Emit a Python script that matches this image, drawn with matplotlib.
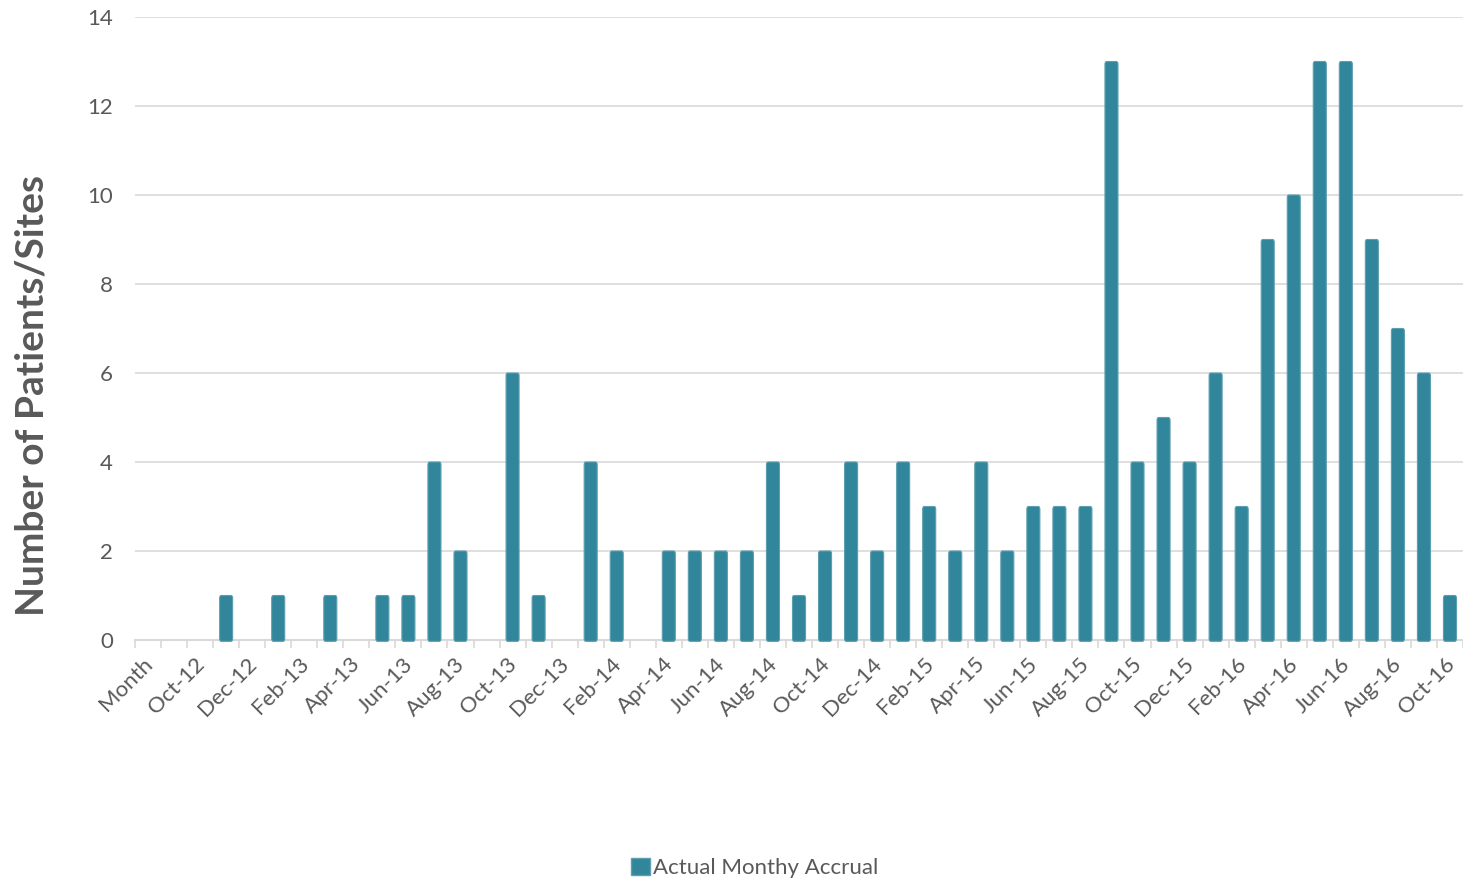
import matplotlib.pyplot as plt
from matplotlib.patches import Patch, FancyBboxPatch
import numpy as np

plt.rcParams['font.family'] = ['Lato', 'DejaVu Sans']

# categories as on the sheet (first row is the header cell "Month")
months = ['Month', 'Sep-12', 'Oct-12', 'Nov-12', 'Dec-12',
          'Jan-13', 'Feb-13', 'Mar-13', 'Apr-13', 'May-13', 'Jun-13',
          'Jul-13', 'Aug-13', 'Sep-13', 'Oct-13', 'Nov-13', 'Dec-13',
          'Jan-14', 'Feb-14', 'Mar-14', 'Apr-14', 'May-14', 'Jun-14',
          'Jul-14', 'Aug-14', 'Sep-14', 'Oct-14', 'Nov-14', 'Dec-14',
          'Jan-15', 'Feb-15', 'Mar-15', 'Apr-15', 'May-15', 'Jun-15',
          'Jul-15', 'Aug-15', 'Sep-15', 'Oct-15', 'Nov-15', 'Dec-15',
          'Jan-16', 'Feb-16', 'Mar-16', 'Apr-16', 'May-16', 'Jun-16',
          'Jul-16', 'Aug-16', 'Sep-16', 'Oct-16']
accrual = [0, 0, 0, 1, 0,
           1, 0, 1, 0, 1, 1,
           4, 2, 0, 6, 1, 0,
           4, 2, 0, 2, 2, 2,
           2, 4, 1, 2, 4, 2,
           4, 3, 2, 4, 2, 3,
           3, 3, 13, 4, 5, 4,
           6, 3, 9, 10, 13, 13,
           9, 7, 6, 1]
yticks = [0, 2, 4, 6, 8, 10, 12, 14]

bar_col = '#31869b'
edge_col = '#5c9fb1'
grey_txt = '#595959'
grid_col = '#d9d9d9'

fig = plt.figure(figsize=(14.63, 8.82), dpi=100)
ax = fig.add_axes([135 / 1463, 1 - 640 / 882, 1 - 135 / 1463, (640 - 17) / 882])

x = np.arange(len(months))
bw = 0.5
for xi, v in zip(x, accrual):
    if v <= 0:
        continue
    # slightly rounded bar, dipping a hair below the axis like the original
    p = FancyBboxPatch((xi - bw / 2, -0.03), bw, v + 0.03,
                       boxstyle='round,pad=0,rounding_size=0.06',
                       facecolor=bar_col, edgecolor=edge_col, linewidth=0.8,
                       zorder=3, clip_on=False)
    ax.add_patch(p)

ax.set_xlim(-0.5, len(months) - 0.5)
ax.set_ylim(0, 14)
ax.set_yticks(yticks)
ax.yaxis.grid(True, color=grid_col, linewidth=1.2)
ax.set_axisbelow(True)

# labels sit a touch left of the category centre, as Excel draws them
ax.set_xticks(x[::2] - 0.22)
ax.set_xticklabels(months[::2], rotation=45, ha='right', rotation_mode='anchor')
ax.set_xticks(np.arange(len(months) + 1) - 0.5, minor=True)
ax.tick_params(axis='x', which='major', length=0, pad=10, labelsize=16, labelcolor=grey_txt)
ax.tick_params(axis='x', which='minor', length=6, width=1.2, color=grid_col)
ax.tick_params(axis='y', length=0, pad=16, labelsize=16, labelcolor=grey_txt)

for s in ['top', 'right', 'left']:
    ax.spines[s].set_visible(False)
ax.spines['bottom'].set_color(grid_col)
ax.spines['bottom'].set_linewidth(1.5)

fig.text(32 / 1463, 1 - 395 / 882, 'Number of Patients/Sites', rotation=90,
         ha='center', va='center', fontsize=28, fontweight='bold', color=grey_txt)

fig.legend(handles=[Patch(facecolor=bar_col, edgecolor=edge_col, label='Actual Monthy Accrual')],
           loc='center', bbox_to_anchor=(755 / 1463, 1 - 868 / 882), frameon=False,
           fontsize=16, labelcolor=grey_txt, handlelength=0.85, handleheight=0.85,
           handletextpad=0.15)

fig.savefig('out.png', dpi=100)
